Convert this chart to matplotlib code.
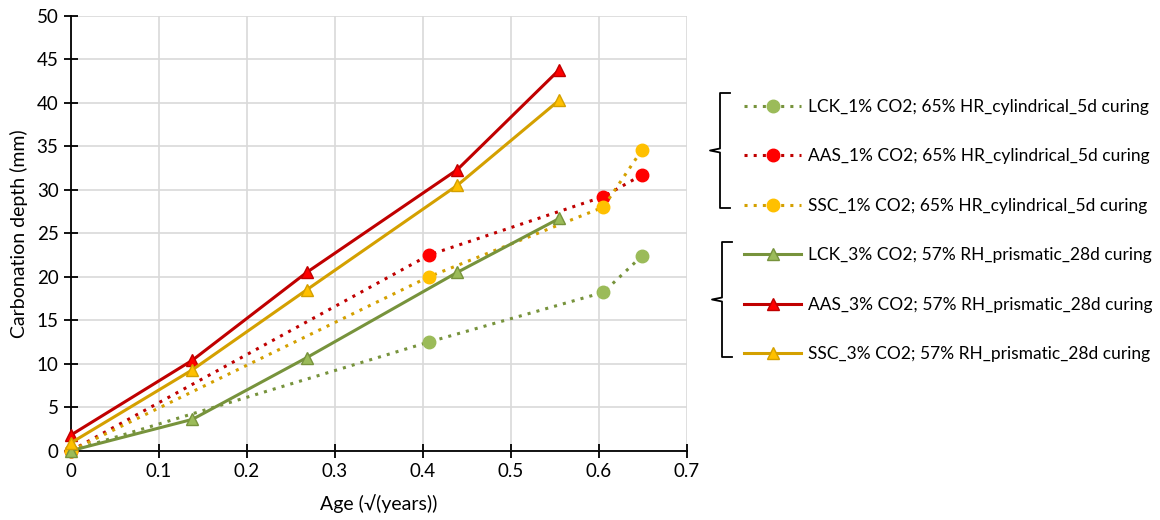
import matplotlib
matplotlib.use("Agg")
import matplotlib.pyplot as plt
from matplotlib.lines import Line2D

plt.rcParams['font.family'] = ['Lato', 'DejaVu Sans']

# 1% CO2 series (cylindrical, 5d curing)
age_1pct = [0, 0.407, 0.605, 0.649]
lck_1pct = [0, 12.5, 18.2, 22.4]
aas_1pct = [0, 22.5, 29.2, 31.7]
ssc_1pct = [0, 20.0, 28.0, 34.6]

# 3% CO2 series (prismatic, 28d curing)
age_3pct = [0, 0.138, 0.268, 0.439, 0.555]
lck_3pct = [0, 3.6, 10.7, 20.5, 26.7]
aas_3pct = [1.8, 10.4, 20.5, 32.3, 43.8]
ssc_3pct = [0.9, 9.3, 18.5, 30.5, 40.3]

labels = [
    "LCK_1% CO2; 65% HR_cylindrical_5d curing",
    "AAS_1% CO2; 65% HR_cylindrical_5d curing",
    "SSC_1% CO2; 65% HR_cylindrical_5d curing",
    "LCK_3% CO2; 57% RH_prismatic_28d curing",
    "AAS_3% CO2; 57% RH_prismatic_28d curing",
    "SSC_3% CO2; 57% RH_prismatic_28d curing",
]

x_ticks = [0, 0.1, 0.2, 0.3, 0.4, 0.5, 0.6, 0.7]
x_ticklabels = ["0", "0.1", "0.2", "0.3", "0.4", "0.5", "0.6", "0.7"]
y_ticks = [0, 5, 10, 15, 20, 25, 30, 35, 40, 45, 50]

fig = plt.figure(figsize=(11.6, 5.2), dpi=100)
ax = fig.add_axes([0.0612, 0.1333, 0.531, 0.8365])

dot = (0, (1, 2))
handles = []
# dotted series with circle markers
for y, line_c, mark_c in [(lck_1pct, "#77933C", "#9BBB59"),
                          (aas_1pct, "#C00000", "#FF0000"),
                          (ssc_1pct, "#D4A000", "#FFC000")]:
    h, = ax.plot(age_1pct, y, color=line_c, linestyle=dot, linewidth=2.2,
                 marker="o", markersize=9, markerfacecolor=mark_c,
                 markeredgecolor=mark_c, clip_on=False, zorder=3)
    handles.append(h)

# solid series with triangle markers
for y, line_c, mark_c in [(lck_3pct, "#77933C", "#9BBB59"),
                          (aas_3pct, "#C00000", "#FF0000"),
                          (ssc_3pct, "#D4A000", "#FFC000")]:
    h, = ax.plot(age_3pct, y, color=line_c, linestyle="-", linewidth=2.2,
                 marker="^", markersize=9, markerfacecolor=mark_c,
                 markeredgecolor=line_c, clip_on=False, zorder=4)
    handles.append(h)

ax.set_xlim(0, 0.7)
ax.set_ylim(0, 50)
ax.set_xticks(x_ticks)
ax.set_xticklabels(x_ticklabels)
ax.set_yticks(y_ticks)
ax.grid(True, color="#D9D9D9", linewidth=1.2)
ax.set_axisbelow(True)
for s in ["top", "right"]:
    ax.spines[s].set_visible(False)
for s in ["left", "bottom"]:
    ax.spines[s].set_color("black")
    ax.spines[s].set_linewidth(1.3)
ax.tick_params(direction="inout", length=10, width=1.3, labelsize=13.5,
               colors="black", pad=4)
ax.set_xlabel("Age (√(years))", fontsize=14, labelpad=10)
ax.set_ylabel("Carbonation depth (mm)", fontsize=14, labelpad=6)

fig.legend(handles=handles, labels=labels, loc="upper left",
           bbox_to_anchor=(0.6413, 0.81), frameon=False, fontsize=12.5,
           handlelength=3.3, handletextpad=0.4, labelspacing=1.93,
           borderpad=0, borderaxespad=0)

# braces grouping the legend entries
def brace(x0, y_top, y_bot, xt):
    W, H = 1160.0, 520.0
    ym = (y_top + y_bot) / 2
    xs = [x0 + 10, x0, x0, xt, x0, x0, x0 + 10]
    ys = [y_top, y_top, ym - 2, ym, ym + 2, y_bot, y_bot]
    fig.add_artist(Line2D([v / W for v in xs], [1 - v / H for v in ys],
                          color="black", linewidth=1.3))

brace(720, 93, 208, 710)
brace(722, 242, 357, 712)

fig.savefig("out.png", dpi=100)
